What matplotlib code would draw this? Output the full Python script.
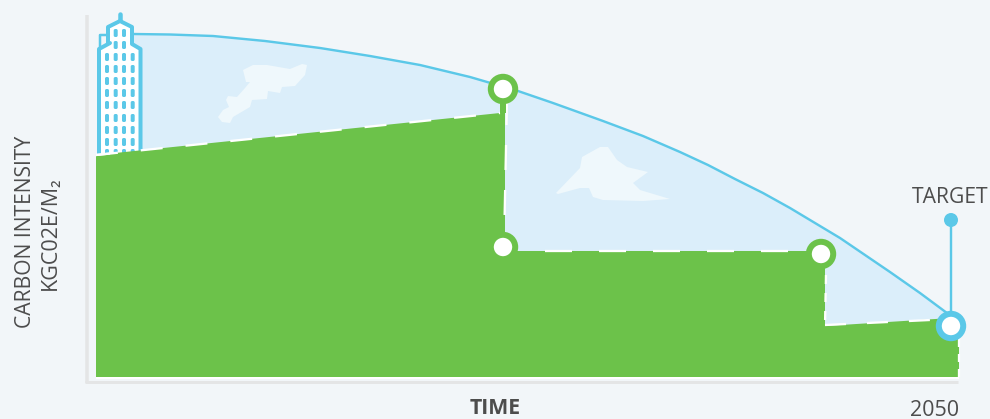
import matplotlib
matplotlib.use("Agg")
import matplotlib.pyplot as plt
from matplotlib.patches import Polygon, Circle, FancyBboxPatch

plt.rcParams['font.family'] = ['Open Sans', 'DejaVu Sans']
plt.rcParams['lines.scale_dashes'] = False

curve_x = [133, 170, 213, 265, 320, 370, 420, 445, 470, 494, 518, 553, 603, 643, 680, 708, 735, 763, 790, 815, 840, 865, 890, 920, 951]
curve_y = [34, 34.5, 36, 41, 48, 56, 65, 71, 77, 84, 91, 103, 121, 136, 152, 165, 179, 193, 208, 223, 238, 255, 272, 293, 316]

green_x = [96, 500, 505, 505, 825, 825, 951, 959, 959, 96]
green_y = [155, 113, 113, 251, 251, 326, 318, 335, 377, 377]

top_x, top_y = [96, 500], [155, 113]
drop1_x, drop1_y = [507, 504], [100, 245]
flat_x, flat_y = [545, 815], [251, 251]
drop2_x, drop2_y = [826, 825], [275, 325]
rise_x, rise_y = [825, 951], [325, 319]
edge_x, edge_y = [959, 959], [339, 377]

building_x = [99, 99, 110, 108, 108, 120, 132, 132, 140.5, 140.5]
building_y = [156, 49, 43, 43, 27, 21, 27, 44, 49, 156]
annex_x = [100, 100, 108]
annex_y = [46, 35, 35]

window_cols = [107, 115.7, 124, 132.7]
window_rows = [57, 69, 81, 93, 105, 118, 130, 142, 153]
window_rows_top = [33, 45]

cloud1_x = [243, 253, 267, 290, 302, 307, 305, 295, 282, 280, 268, 267, 252, 250, 233, 230, 222, 218, 223, 229, 226, 228, 237, 245, 250, 246]
cloud1_y = [70, 65, 65, 69, 64, 65, 75, 86, 87, 93, 91, 99, 100, 107, 117, 123, 122, 117, 110, 107, 100, 96, 97, 88, 82, 82]
cloud2_x = [556, 580, 582, 600, 608, 617, 627, 648, 633, 640, 670, 643, 603, 593, 589, 580, 558]
cloud2_y = [193, 168, 157, 147, 147, 160, 167, 172, 183, 190, 199, 201, 200, 197, 188, 188, 194]

ring_green = [(503, 89), (503, 247), (821, 254)]
ring_target = (951, 326)
dot_target = (951, 220)

BG = "#f2f6f9"
SKY = "#dbeefa"
BLUE = "#5bc8e8"
GREEN = "#6cc24a"
CLOUD = "#eff8fc"
AXIS = "#e4e5e6"
TEXT = "#4d4d4d"

fig = plt.figure(figsize=(9.9, 4.19), dpi=100, facecolor=BG)
ax = fig.add_axes([0, 0, 1, 1])
ax.set_xlim(0, 990)
ax.set_ylim(419, 0)
ax.axis("off")

px = 0.72  # points per pixel


def dashed(xs, ys, on, off):
    ax.plot(xs, ys, color="white", lw=2.3 * px, linestyle=(0, (on * px, off * px)),
            zorder=5, dash_capstyle="butt")


# axes lines
ax.plot([86.5, 86.5], [15, 383], color=AXIS, lw=3.5 * px, solid_capstyle="butt")
ax.plot([85, 958], [381.5, 381.5], color=AXIS, lw=3 * px, solid_capstyle="butt")
ax.plot([96, 959], [378, 378], color="white", lw=2 * px, solid_capstyle="butt")

# sky region under the curve
sky_x = curve_x + [951, 133]
sky_y = curve_y + [340, 340]
ax.add_patch(Polygon(list(zip(sky_x, sky_y)), closed=True, fc=SKY, ec="none"))
ax.plot(curve_x, curve_y, color=BLUE, lw=2.4 * px, solid_capstyle="round", solid_joinstyle="round")

ax.add_patch(Polygon(list(zip(cloud1_x, cloud1_y)), closed=True, fc=CLOUD, ec="none"))
ax.add_patch(Polygon(list(zip(cloud2_x, cloud2_y)), closed=True, fc=CLOUD, ec="none"))

# building
ax.plot(annex_x, annex_y, color=BLUE, lw=2.5 * px)
ax.add_patch(Polygon(list(zip(building_x, building_y)), closed=True, fc="white", ec=BLUE, lw=4 * px, joinstyle="round"))
ax.plot([120, 120], [14, 20], color=BLUE, lw=4.5 * px, solid_capstyle="round")
for wy in window_rows:
    for wx in window_cols:
        ax.add_patch(FancyBboxPatch((wx - 1, wy - 3), 2, 6, boxstyle="round,pad=1,rounding_size=1.6", fc=BLUE, ec="none"))
for wy in window_rows_top:
    for wx in window_cols[1:3]:
        ax.add_patch(FancyBboxPatch((wx - 1, wy - 3), 2, 6, boxstyle="round,pad=1,rounding_size=1.6", fc=BLUE, ec="none"))

# green block with dashed outline
ax.add_patch(Polygon(list(zip(green_x, green_y)), closed=True, fc=GREEN, ec="none", zorder=4))
ax.plot([96, 110], [155, 153.5], color="white", lw=2.3 * px, zorder=5, solid_capstyle="butt")
dashed(top_x, top_y, 22, 23)
dashed(drop1_x, drop1_y, 25, 20)
dashed(flat_x, flat_y, 27, 27)
dashed(drop2_x, drop2_y, 9, 9)
dashed(rise_x, rise_y, 21, 21)
dashed(edge_x, edge_y, 8, 7)
ax.plot([503, 503], [89, 113], color=GREEN, lw=6 * px, solid_capstyle="butt", zorder=5)

for cx, cy in ring_green:
    ax.add_patch(Circle((cx, cy), 12.2, fc="white", ec=GREEN, lw=6 * px, zorder=6))

# target
ax.plot([dot_target[0], ring_target[0]], [dot_target[1], ring_target[1]], color=BLUE, lw=2.4 * px, zorder=6)
ax.add_patch(Circle(dot_target, 7, fc=BLUE, ec="none", zorder=6))
ax.add_patch(Circle(ring_target, 12.2, fc="white", ec=BLUE, lw=6 * px, zorder=7))

ax.text(950, 197, "TARGET", ha="center", va="center", fontsize=15.2, color=TEXT)
ax.text(935, 410, "2050", ha="center", va="center", fontsize=15.5, color=TEXT)
ax.text(495, 408, "TIME", ha="center", va="center", fontsize=15.3, fontweight="bold", color=TEXT)
ax.text(26, 232, "CARBON INTENSITY", ha="center", va="center", rotation=90, fontsize=15.2, color=TEXT)
ax.text(50, 233, "KGC02E/M₂", ha="center", va="center", rotation=90, fontsize=15.5, color=TEXT)

fig.savefig("out.png", dpi=100, facecolor=BG)
